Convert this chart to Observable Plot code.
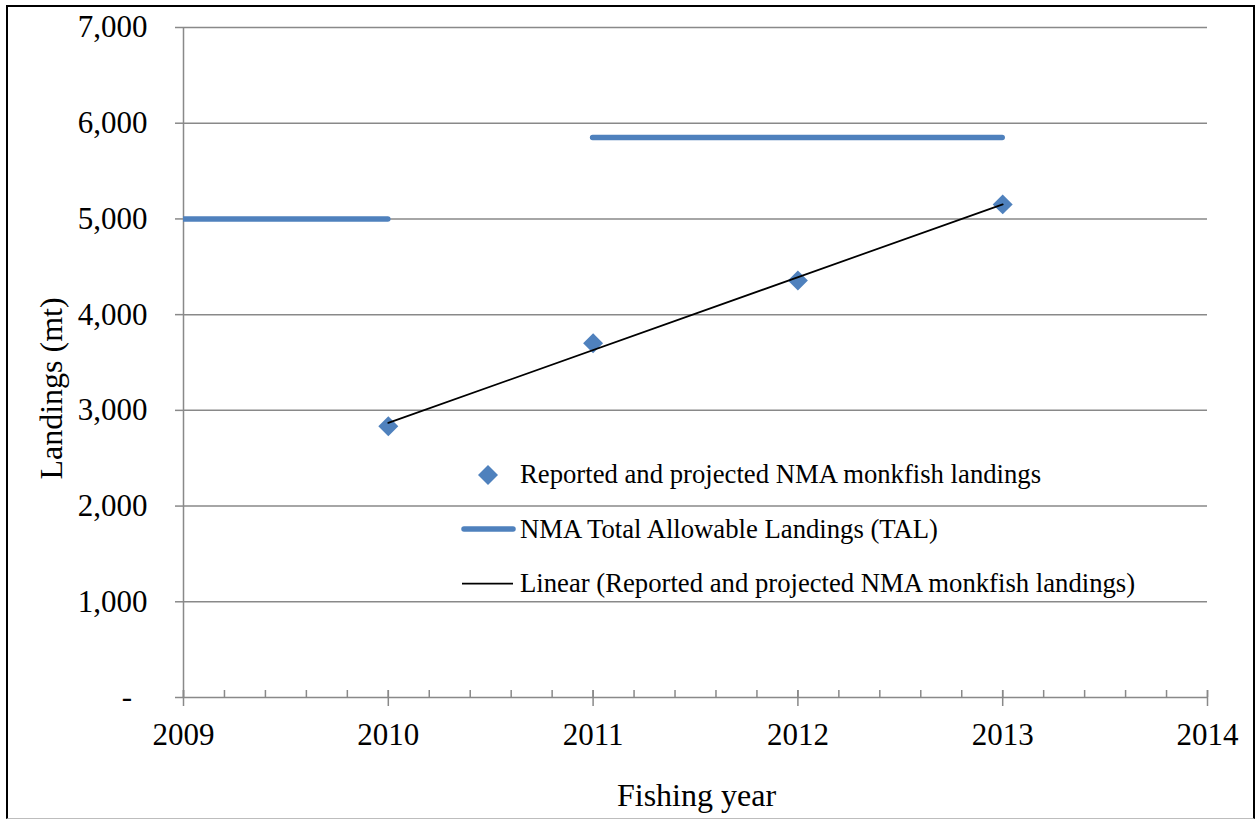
<!DOCTYPE html>
<html>
<head>
<meta charset="utf-8">
<script src="https://cdn.jsdelivr.net/npm/d3@7"></script>
<script src="https://cdn.jsdelivr.net/npm/@observablehq/plot@0.6"></script>
<style>
  html, body { margin: 0; padding: 0; background: #fff; }
  #wrap { position: relative; width: 1255px; height: 820px; overflow: hidden;
          font-family: "Liberation Serif", "Times New Roman", serif; }
  #frame { position: absolute; left: 6px; top: 5px; width: 1249px; height: 814px;
           box-sizing: border-box; border: 2px solid #000; border-bottom: 1px solid #bdbdbd;
           pointer-events: none; }
  #chart svg { display: block; }
  #overlay { position: absolute; left: 0; top: 0; pointer-events: none; }
  #overlay text { font-family: "Liberation Serif", "Times New Roman", serif; fill: #000; }
</style>
</head>
<body>
<div id="wrap">
  <div id="chart"></div>
  <svg id="overlay" width="1255" height="820">
    <!-- axis titles -->
    <text id="ytitle" transform="translate(62,388.5) rotate(-90)" text-anchor="middle" font-size="32">Landings (mt)</text>
    <text id="xtitle" x="696.5" y="806" text-anchor="middle" font-size="32">Fishing year</text>
    <!-- legend -->
    <g id="legend" font-size="26.7">
      <polygon points="488,465 498,475 488,485 478,475" fill="#4F81BD"></polygon>
      <text x="520" y="483">Reported and projected NMA monkfish landings</text>
      <line x1="464" y1="529" x2="513" y2="529" stroke="#4F81BD" stroke-width="5.5" stroke-linecap="round"></line>
      <text x="520" y="538">NMA Total Allowable Landings (TAL)</text>
      <line x1="462" y1="583.5" x2="513" y2="583.5" stroke="#000" stroke-width="1.75"></line>
      <text x="520" y="592">Linear (Reported and projected NMA monkfish landings)</text>
    </g>
  </svg>
  <div id="frame"></div>
</div>
<script>
// Reported and projected landings (mt) by fishing year
const years = [2010, 2011, 2012, 2013];
const landings = [2834, 3700, 4357, 5152];

// Total Allowable Landings periods
const talStart = [2009, 2011];
const talEnd = [2010, 2013];
const talValue = [5000, 5850];

// Axis ticks
const yTicks = [0, 1000, 2000, 3000, 4000, 5000, 6000, 7000];
const xTicks = [2009, 2010, 2011, 2012, 2013, 2014];
const xMinorTicks = d3.range(0, 26).map(i => 2009 + i / 5);

const BLUE = "#4F81BD";
const GRAY = "#898989";

const points = years.map((year, i) => ({year, value: landings[i]}));
const tal = talValue.map((value, i) => ({start: talStart[i], end: talEnd[i], value}));

const fmt = d3.format(",");

const chart = Plot.plot({
  width: 1255,
  height: 820,
  marginLeft: 183,
  marginRight: 48,
  marginTop: 27,
  marginBottom: 123,
  style: {fontFamily: '"Liberation Serif", "Times New Roman", serif', fontSize: "31px", background: "transparent", color: "#000"},
  x: {domain: [2009, 2014], label: null},
  y: {domain: [0, 7000], label: null},
  marks: [
    Plot.gridY(yTicks, {stroke: GRAY, strokeOpacity: 1, strokeWidth: 1.5}),
    Plot.ruleX([2009], {stroke: GRAY, strokeWidth: 1.5}),
    Plot.axisY(yTicks, {
      tickSize: 8, tickPadding: 28, stroke: GRAY, strokeWidth: 1.5, fill: "#000", label: null,
      tickFormat: d => d === 0 ? "-\u00a0\u00a0" : fmt(d)
    }),
    Plot.axisX(xMinorTicks, {tickSize: 7, dy: -7, stroke: GRAY, strokeWidth: 1.5, fill: "none", label: null}),
    Plot.axisX(xTicks, {tickSize: 16, dy: -7, stroke: GRAY, strokeWidth: 1.5, fill: "none", label: null}),
    Plot.axisX(xTicks, {tickSize: 0, tickPadding: 25, fill: "#000", label: null, tickFormat: d => String(d)}),
    Plot.ruleY(tal, {y: "value", x1: "start", x2: "end", stroke: BLUE, strokeWidth: 5.5, strokeLinecap: "round", clip: true}),
    Plot.dot(points, {x: "year", y: "value", symbol: "diamond2", r: 9, fill: BLUE, stroke: "none"}),
    Plot.linearRegressionY(points, {x: "year", y: "value", stroke: "#000", strokeWidth: 1.75, ci: 0})
  ]
});
document.getElementById("chart").appendChild(chart);
</script>
</body>
</html>
